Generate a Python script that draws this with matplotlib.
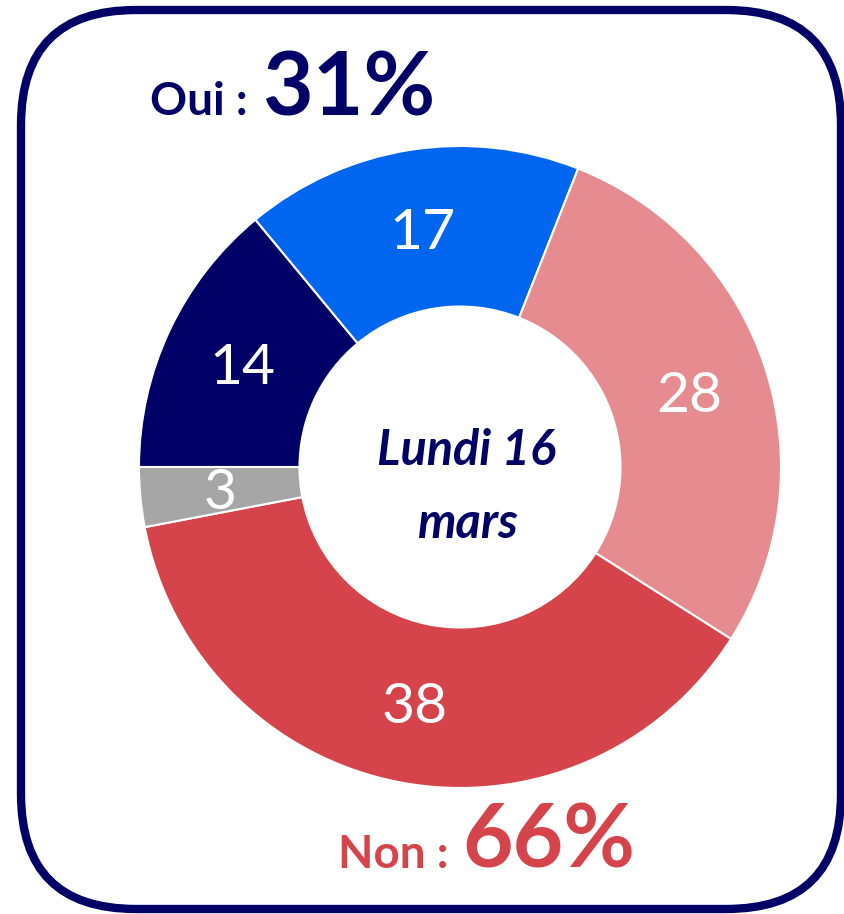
import matplotlib
matplotlib.use("Agg")
import matplotlib.pyplot as plt
from matplotlib.patches import FancyBboxPatch
import numpy as np

labels = ["14", "17", "28", "38", "3"]
values = [14, 17, 28, 38, 3]
colors = ["#000066", "#0066F0", "#E68C91", "#D6444B", "#A6A6A6"]
center_text = "Lundi 16\nmars"
oui_label, oui_value = "Oui : ", "31%"
non_label, non_value = "Non : ", "66%"

W, H = 845, 914
fig = plt.figure(figsize=(W / 100, H / 100), dpi=100)
ax = fig.add_axes([0, 0, 1, 1])

cx, cy, R = 460, H - 467, 321
wedges, _ = ax.pie(values, colors=colors, startangle=180, counterclock=False,
                   center=(cx, cy), radius=R,
                   wedgeprops=dict(width=R * 0.5, edgecolor="white", linewidth=1.5))
ax.set_xlim(0, W)
ax.set_ylim(0, H)
ax.set_aspect("auto")
ax.axis("off")

font = "Lato"
for w, lab in zip(wedges, labels):
    ang = np.deg2rad((w.theta1 + w.theta2) / 2)
    r = R * 0.75
    ax.text(cx + r * np.cos(ang), cy + r * np.sin(ang) - 4, lab, color="white",
            fontsize=41, ha="center", va="center", family=font)

ax.text(cx + 7, cy - 20, center_text, color="#000066", fontsize=35, fontweight="bold",
        fontstyle="italic", ha="center", va="center", family=font, linespacing=1.75)

# Oui / Non headers
t1 = ax.text(150, H - 115, oui_label, color="#000066", fontsize=33, fontweight="bold",
             ha="left", va="baseline", family=font)
fig.canvas.draw()
bb = t1.get_window_extent()
ax.text(bb.x1 + 3, H - 115, oui_value, color="#000066", fontsize=63, fontweight="bold",
        ha="left", va="baseline", family=font)

t2 = ax.text(338, H - 868, non_label, color="#D6444B", fontsize=33, fontweight="bold",
             ha="left", va="baseline", family=font)
fig.canvas.draw()
bb = t2.get_window_extent()
ax.text(bb.x1 + 3, H - 868, non_value, color="#D6444B", fontsize=63, fontweight="bold",
        ha="left", va="baseline", family=font)

box = FancyBboxPatch((21, H - 909), 841 - 21, 909 - 10,
                     boxstyle="round,pad=0,rounding_size=115",
                     fill=False, edgecolor="#000066", linewidth=6)
ax.add_patch(box)

fig.savefig("out.png", dpi=100)
